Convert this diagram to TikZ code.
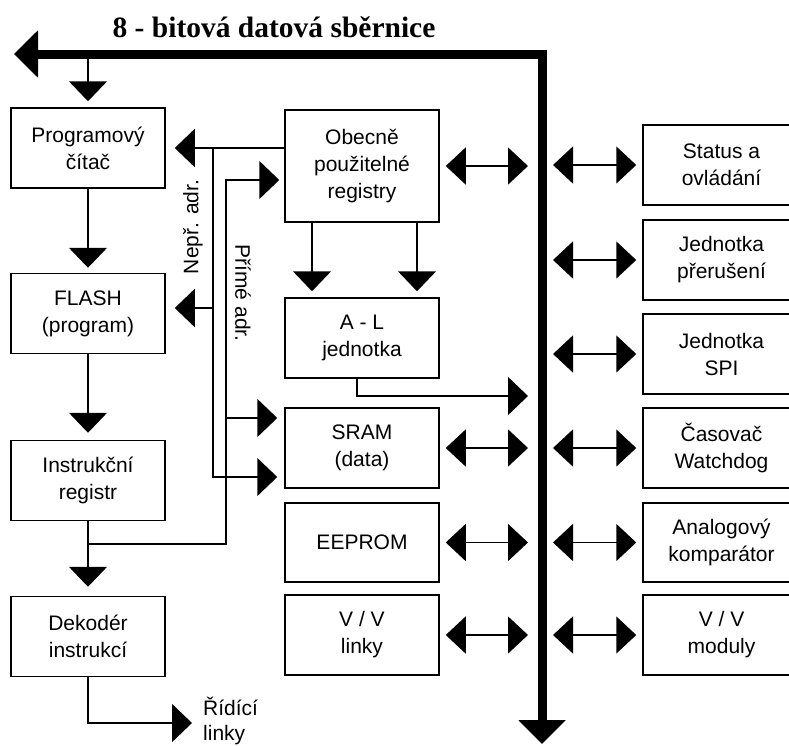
\documentclass[tikz,border=0pt]{standalone}
\usepackage{fontspec}
\setmainfont{Liberation Sans}
\newfontfamily\titlefont{Liberation Serif}
\usetikzlibrary{arrows.meta}

\newcommand{\bodyfont}{\fontsize{21}{27}\selectfont}

\tikzset{
  blk/.style={draw, line width=1.5pt, minimum width=154pt, minimum height=80pt,
              align=center, font=\bodyfont, inner sep=0pt},
  rblk/.style={blk, minimum width=157pt},
  arr/.style={line width=1.5pt, -{Triangle[length=20pt,width=38pt]}},
  biarr/.style={line width=1.5pt,
                {Triangle[length=20pt,width=37pt]}-{Triangle[length=20pt,width=37pt]}},
  busline/.style={line width=9pt, line join=miter,
                  {Triangle[length=24pt,width=46pt]}-{Triangle[length=24pt,width=46pt]}},
  lbl/.style={font=\bodyfont, inner sep=0pt},
}

\begin{document}
\begin{tikzpicture}[x=1pt,y=-1pt]
\useasboundingbox (0,0) rectangle (789,745);

% data bus
\coordinate (busL) at (14,54);
\coordinate (busC) at (542,54);
\coordinate (busB) at (542,744);
\draw[busline] (busL) -- (busC) -- (busB);
\node[font=\titlefont\bfseries\fontsize{29.5}{29.5}\selectfont, anchor=base] (title) at (274,37)
  {8 - bitová datová sběrnice};

% left column
\node[blk] (pc)    at (88,148)   {Programový\\čítač};
\node[blk] (flash) at (88,313.5) {FLASH\\(program)};
\node[blk] (ir)    at (88,480.5) {Instrukční\\registr};
\node[blk] (dec)   at (88,636.5) {Dekodér\\instrukcí};

% middle column
\node[blk, minimum height=112pt] (gpr) at (362,166) {Obecně\\použitelné\\registry};
\node[blk] (alu)    at (362,338)   {A - L\\jednotka};
\node[blk] (sram)   at (362,448)   {SRAM\\(data)};
\node[blk, minimum height=79pt] (eeprom) at (362,542.5) {EEPROM};
\node[blk] (io)     at (362,635)   {V / V\\linky};

% right column (peripherals)
\node[rblk] (status) at (721.5,165)   {Status a\\ovládání};
\node[rblk] (irq)    at (721.5,260)   {Jednotka\\přerušení};
\node[rblk] (spi)    at (721.5,354)   {Jednotka\\SPI};
\node[rblk] (wdt)    at (721.5,448)   {Časovač\\Watchdog};
\node[rblk, minimum height=79pt] (acomp) at (721.5,542.5) {Analogový\\komparátor};
\node[rblk] (iomod)  at (721.5,635)   {V / V\\moduly};

% program flow
\draw[arr, shorten >=6pt] (pc.north |- busC) -- (pc.north);
\draw[arr, shorten >=5pt] (pc.south) -- (flash.north);
\draw[arr, shorten >=7pt] (flash.south) -- (ir.north);
\draw[arr, shorten >=9pt] (ir.south) -- (dec.north);

% control lines
\node[lbl, align=left, anchor=west, font=\fontsize{21}{25}\selectfont] (ctl) at (203,721) {Řídící\\linky};
\coordinate (ctlin) at (192,723);
\draw[arr] (dec.south) |- (ctlin);

% indirect addressing
\coordinate (n1) at (213,148);
\coordinate (n2) at (213,308);
\coordinate (n3) at (213,477);
\draw[arr, shorten >=9pt] (gpr.west |- n1) -- (pc.east |- n1);
\draw[arr, shorten >=9pt] (n2) -- (flash.east |- n2);
\draw[arr, shorten >=7pt] (n1) -- (n3) -- (sram.west |- n3);
\node[lbl, rotate=90] (nepr) at (193,227) {Nepř. adr.};

% direct addressing
\coordinate (p0) at (88,544);
\coordinate (p1) at (226,544);
\coordinate (p2) at (226,180);
\coordinate (p3) at (226,418);
\draw[arr, shorten >=5pt] (p0) -- (p1) -- (p2) -- (gpr.west |- p2);
\draw[arr, shorten >=7pt] (p3) -- (sram.west |- p3);
\node[lbl, rotate=-90] (prime) at (243,293) {Přímé adr.};

% ALU
\draw[arr, shorten >=6pt] (gpr.south -| 312,0) -- (alu.north -| 312,0);
\draw[arr, shorten >=6pt] (gpr.south -| 417,0) -- (alu.north -| 417,0);
\coordinate (aluout) at (528,396);
\draw[arr] (alu.south -| 357,0) |- (aluout);

% links between the blocks and the bus
\foreach \b in {gpr,sram,eeprom,io}
  \draw[biarr, shorten <=6pt, shorten >=14pt] (\b.east) -- (\b.east -| busC);
\foreach \b in {status,irq,spi,wdt,acomp,iomod}
  \draw[biarr, shorten <=11pt, shorten >=6pt] (\b.west -| busC) -- (\b.west);
\end{tikzpicture}
\end{document}
